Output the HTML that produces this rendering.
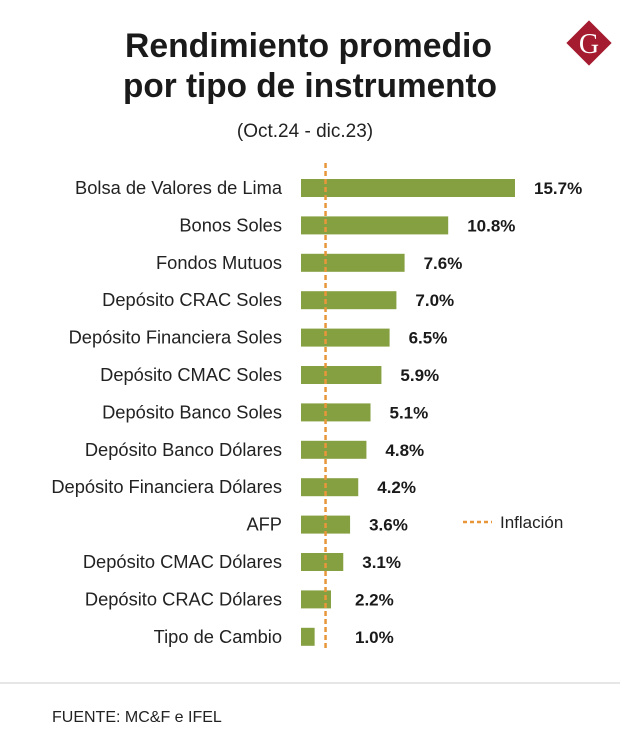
<!DOCTYPE html>
<html><head><meta charset="utf-8"><style>
body{margin:0;width:620px;height:747px;background:#fff;font-family:"Liberation Sans",sans-serif;overflow:hidden}
</style></head><body>
<svg width="620" height="747" viewBox="0 0 620 747">
<g font-weight="bold" font-size="34" fill="#1a1a1a">
<text x="125" y="57" textLength="367" lengthAdjust="spacingAndGlyphs">Rendimiento promedio</text>
<text x="123" y="97" textLength="374" lengthAdjust="spacingAndGlyphs">por tipo de instrumento</text>
</g>
<text x="305" y="137" text-anchor="middle" font-size="19" fill="#222">(Oct.24 - dic.23)</text>
<g>
<rect x="573" y="27" width="32" height="32" fill="#a51c30" transform="rotate(45 589 43)"/>
<text x="589" y="53" text-anchor="middle" font-family="Liberation Serif,serif" font-size="28" fill="#fff">G</text>
</g>
<g id="bars"></g>
<g>
<line x1="463" y1="522" x2="492" y2="522" stroke="#e8963a" stroke-width="2.5" stroke-dasharray="4,3"/>
<text x="500" y="528" font-size="17" fill="#222">Inflación</text>
</g>
<line x1="0" y1="683" x2="620" y2="683" stroke="#ccc" stroke-width="1"/>
<text x="52" y="722" font-size="16" fill="#222">FUENTE: MC&amp;F e IFEL</text>
</svg>
<script>
const categories=["Bolsa de Valores de Lima","Bonos Soles","Fondos Mutuos","Depósito CRAC Soles","Depósito Financiera Soles","Depósito CMAC Soles","Depósito Banco Soles","Depósito Banco Dólares","Depósito Financiera Dólares","AFP","Depósito CMAC Dólares","Depósito CRAC Dólares","Tipo de Cambio"];
const values=[15.7,10.8,7.6,7.0,6.5,5.9,5.1,4.8,4.2,3.6,3.1,2.2,1.0];
const valueLabels=["15.7%","10.8%","7.6%","7.0%","6.5%","5.9%","5.1%","4.8%","4.2%","3.6%","3.1%","2.2%","1.0%"];
const inflation=[1.8];
const ns="http://www.w3.org/2000/svg";
const x=v=>301+v*13.63;
const y=i=>188+i*37.4;
const g=document.getElementById('bars');
function mk(t,a){const e=document.createElementNS(ns,t);for(const k in a)e.setAttribute(k,a[k]);g.appendChild(e);return e;}
categories.forEach((c,i)=>{
 const r=mk('rect',{x:x(0),y:y(i)-9,width:x(values[i])-x(0),height:18,fill:'#85a040'});
 
 
 const l=mk('text',{x:282,y:y(i)+6,'text-anchor':'end','font-size':18.3,fill:'#222'});
 l.textContent=c;
 
 
 const v=mk('text',{x:Math.max(x(values[i])+19,355),y:y(i)+6,'font-size':17,'font-weight':'bold',fill:'#1a1a1a'});
 v.textContent=valueLabels[i];
 
 
});
const il=mk('line',{x1:x(inflation[0]),x2:x(inflation[0]),y1:163,y2:648,stroke:'#e8963a','stroke-width':2.5,'stroke-dasharray':'5,3'});


</script>
</body></html>
